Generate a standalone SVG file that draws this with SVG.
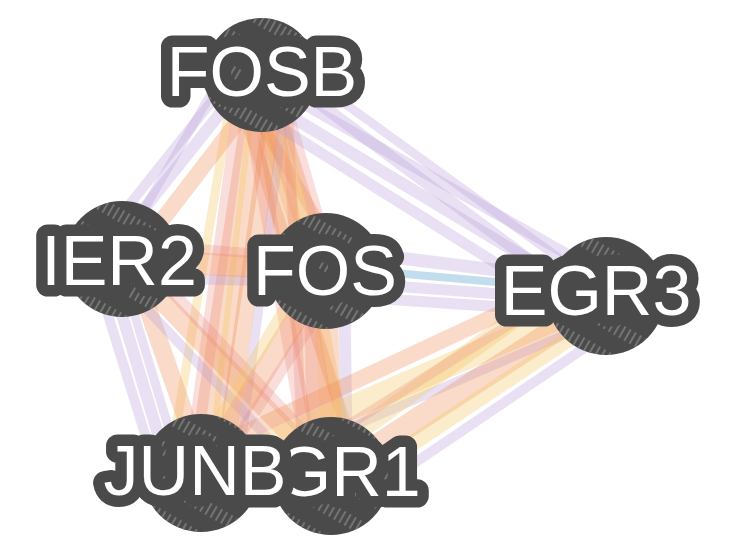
<svg xmlns="http://www.w3.org/2000/svg" width="730" height="543" viewBox="0 0 730 543">
<style>
.e line{fill:none;stroke-linecap:butt}
.pu{stroke:#b79cd6;stroke-opacity:.30}
.or{stroke:#f09058;stroke-opacity:.32}
.ye{stroke:#f4c868;stroke-opacity:.34}
.pk{stroke:#ea8a7c;stroke-opacity:.28}
.bl{stroke:#78b4d8;stroke-opacity:.45}
.body{fill:#4a4a4a}
.hatch{fill:url(#hatch)}
.lbl{font-family:"Liberation Sans",Arial,sans-serif;font-size:70px;fill:#ffffff;stroke:#4a4a4a;stroke-width:23px;stroke-linejoin:round;paint-order:stroke;text-anchor:middle}
</style>
<defs>
<pattern id="hatch" width="6" height="30" patternUnits="userSpaceOnUse" patternTransform="rotate(30)">
<line x1="3" y1="0" x2="3" y2="13" stroke="#8a8a8a" stroke-width="1.3"/>
</pattern>
</defs>
<rect width="730" height="543" fill="#ffffff"/>
<g id="connectors">
<!-- FOSB-FOS -->
<g class="e" transform="translate(261 75) rotate(71.65)">
<line x1="0" y1="0" x2="206" y2="4" class="or" stroke-width="24"/>
<line x1="0" y1="-14" x2="206" y2="-6" class="pk" stroke-width="14"/>
<line x1="0" y1="14" x2="206" y2="16" class="ye" stroke-width="10"/>
<line x1="0" y1="24" x2="206" y2="-18" class="or" stroke-width="12"/>
</g>
<!-- FOSB-JUNB -->
<g class="e" transform="translate(261 75) rotate(98.57)">
<line x1="0" y1="0" x2="402" y2="0" class="or" stroke-width="28"/>
<line x1="0" y1="16" x2="402" y2="10" class="pk" stroke-width="16"/>
<line x1="0" y1="-16" x2="402" y2="-22" class="or" stroke-width="18"/>
<line x1="0" y1="26" x2="402" y2="32" class="ye" stroke-width="9"/>
<line x1="0" y1="-28" x2="402" y2="-36" class="pu" stroke-width="9"/>
<line x1="0" y1="6" x2="402" y2="-8" class="ye" stroke-width="6"/>
</g>
<!-- FOSB-EGR1 -->
<g class="e" transform="translate(261 75) rotate(80.10)">
<line x1="0" y1="0" x2="407" y2="0" class="or" stroke-width="28"/>
<line x1="0" y1="-14" x2="407" y2="-20" class="ye" stroke-width="12"/>
<line x1="0" y1="16" x2="407" y2="18" class="pk" stroke-width="16"/>
<line x1="0" y1="28" x2="407" y2="-30" class="or" stroke-width="12"/>
<line x1="0" y1="-26" x2="407" y2="28" class="pk" stroke-width="10"/>
</g>
<!-- FOSB-IER2 -->
<g class="e" transform="translate(261 75) rotate(127.07)">
<line x1="0" y1="8" x2="230" y2="14" class="pu" stroke-width="12"/>
<line x1="0" y1="22" x2="230" y2="28" class="pu" stroke-width="10"/>
<line x1="0" y1="34" x2="230" y2="6" class="pu" stroke-width="9"/>
<line x1="0" y1="-10" x2="230" y2="-8" class="or" stroke-width="16"/>
</g>
<!-- FOSB-EGR3 -->
<g class="e" transform="translate(261 75) rotate(32.49)">
<line x1="0" y1="-12" x2="411" y2="18" class="pu" stroke-width="12"/>
<line x1="0" y1="4" x2="411" y2="-16" class="pu" stroke-width="11"/>
<line x1="0" y1="20" x2="411" y2="10" class="pu" stroke-width="12"/>
<line x1="0" y1="-26" x2="411" y2="-2" class="pu" stroke-width="9"/>
<line x1="0" y1="34" x2="411" y2="32" class="pu" stroke-width="11"/>
</g>
<!-- IER2-FOS -->
<g class="e" transform="translate(122 259) rotate(3.37)">
<line x1="0" y1="0" x2="204" y2="0" class="or" stroke-width="22"/>
<line x1="0" y1="18" x2="204" y2="12" class="pu" stroke-width="10"/>
<line x1="0" y1="-16" x2="204" y2="-12" class="pk" stroke-width="10"/>
</g>
<!-- IER2-JUNB -->
<g class="e" transform="translate(122 259) rotate(69.74)">
<line x1="0" y1="16" x2="228" y2="30" class="pu" stroke-width="12"/>
<line x1="0" y1="30" x2="228" y2="42" class="pu" stroke-width="10"/>
<line x1="0" y1="4" x2="228" y2="18" class="pu" stroke-width="9"/>
<line x1="0" y1="-8" x2="228" y2="-4" class="or" stroke-width="18"/>
</g>
<!-- IER2-EGR1 -->
<g class="e" transform="translate(122 259) rotate(46.08)">
<line x1="0" y1="0" x2="301" y2="0" class="or" stroke-width="20"/>
<line x1="0" y1="16" x2="301" y2="20" class="pu" stroke-width="10"/>
<line x1="0" y1="-14" x2="301" y2="-10" class="pk" stroke-width="12"/>
</g>
<!-- FOS-JUNB -->
<g class="e" transform="translate(326 271) rotate(121.75)">
<line x1="0" y1="0" x2="237" y2="0" class="or" stroke-width="22"/>
<line x1="0" y1="16" x2="237" y2="12" class="ye" stroke-width="12"/>
<line x1="0" y1="-16" x2="237" y2="-12" class="pk" stroke-width="12"/>
</g>
<!-- FOS-EGR1 -->
<g class="e" transform="translate(326 271) rotate(88.6)">
<line x1="0" y1="0" x2="205" y2="0" class="or" stroke-width="22"/>
<line x1="0" y1="-18" x2="205" y2="-16" class="pu" stroke-width="12"/>
<line x1="0" y1="16" x2="205" y2="18" class="pk" stroke-width="12"/>
</g>
<!-- FOS-EGR3 -->
<g class="e" transform="translate(326 271) rotate(5.07)">
<line x1="0" y1="-22" x2="283" y2="-12" class="pu" stroke-width="13"/>
<line x1="0" y1="-4" x2="283" y2="-4" class="bl" stroke-width="8"/>
<line x1="0" y1="10" x2="283" y2="6" class="pu" stroke-width="11"/>
<line x1="0" y1="24" x2="283" y2="18" class="pu" stroke-width="11"/>
</g>
<!-- JUNB-EGR3 -->
<g class="e" transform="translate(201 473) rotate(-23.5)">
<line x1="0" y1="0" x2="443" y2="0" class="ye" stroke-width="24"/>
<line x1="0" y1="-18" x2="443" y2="-30" class="or" stroke-width="16"/>
<line x1="0" y1="18" x2="443" y2="18" class="pu" stroke-width="9"/>
</g>
<!-- EGR1-EGR3 -->
<g class="e" transform="translate(331 476) rotate(-33.02)">
<line x1="0" y1="0" x2="330" y2="0" class="or" stroke-width="24"/>
<line x1="0" y1="-20" x2="330" y2="-36" class="ye" stroke-width="18"/>
<line x1="0" y1="18" x2="330" y2="14" class="ye" stroke-width="16"/>
<line x1="0" y1="36" x2="330" y2="30" class="pu" stroke-width="10"/>
<line x1="0" y1="-34" x2="330" y2="-28" class="pk" stroke-width="10"/>
</g>
<!-- JUNB-EGR1 -->
<g class="e" transform="translate(201 473) rotate(1.32)">
<line x1="0" y1="0" x2="130" y2="0" class="or" stroke-width="20"/>
</g>
</g>
<g id="node-FOSB">
<circle class="body" cx="261" cy="75" r="57"/>
<circle class="hatch" cx="261" cy="75" r="57"/>
<text class="lbl" x="262" y="96">FOSB</text>
</g>
<g id="node-IER2">
<circle class="body" cx="122" cy="259" r="58"/>
<circle class="hatch" cx="122" cy="259" r="58"/>
<text class="lbl" x="119" y="285">IER2</text>
</g>
<g id="node-FOS">
<circle class="body" cx="326" cy="271" r="58"/>
<circle class="hatch" cx="326" cy="271" r="58"/>
<text class="lbl" x="325" y="295">FOS</text>
</g>
<g id="node-EGR3">
<circle class="body" cx="606" cy="296" r="59"/>
<circle class="hatch" cx="606" cy="296" r="59"/>
<text class="lbl" x="596" y="315">EGR3</text>
</g>
<g id="node-EGR1">
<circle class="body" cx="331" cy="476" r="59"/>
<circle class="hatch" cx="331" cy="476" r="59"/>
<text class="lbl" x="230" y="496" style="text-anchor:start">EGR1</text>
</g>
<g id="node-JUNB">
<circle class="body" cx="201" cy="473" r="59"/>
<circle class="hatch" cx="201" cy="473" r="59"/>
<text class="lbl" x="195" y="495">JUNB</text>
</g>
</svg>
